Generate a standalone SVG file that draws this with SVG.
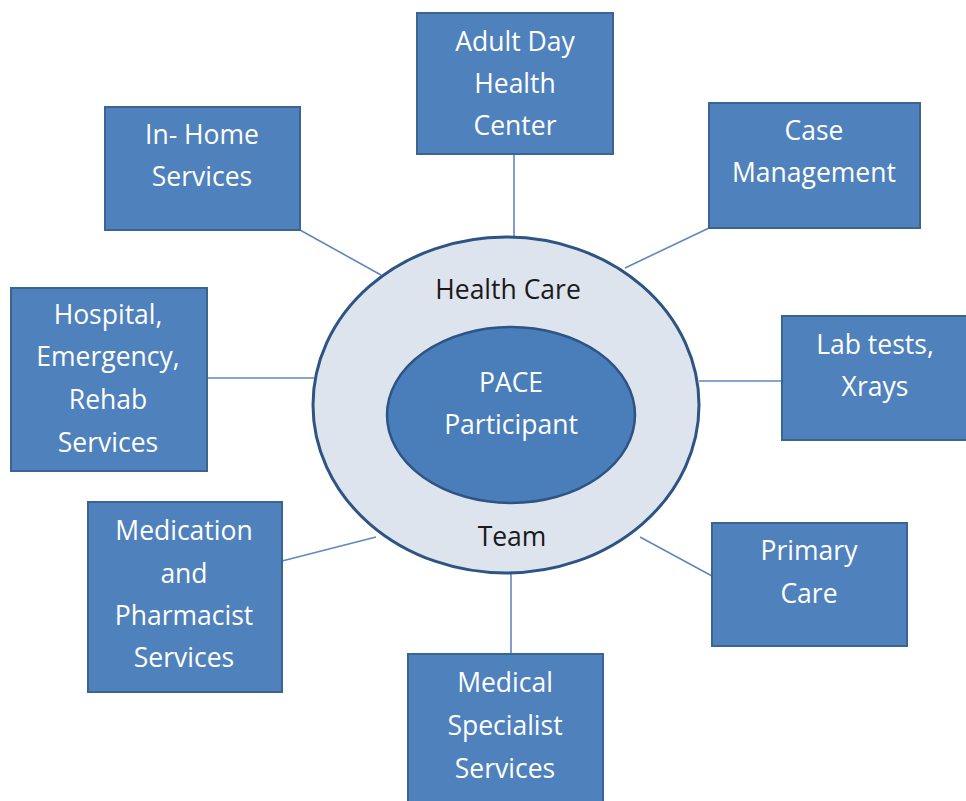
<svg xmlns="http://www.w3.org/2000/svg" width="966" height="801" viewBox="0 0 966 801">
<style>
.box{fill:#4f81bd;stroke:#3b6491;stroke-width:2}
.t{font-family:"Open Sans","Liberation Sans",sans-serif;font-size:26.5px;fill:#ffffff;text-anchor:middle}
.d{font-family:"Open Sans","Liberation Sans",sans-serif;font-size:26.5px;fill:#1a1a1a;text-anchor:middle}
.c line{stroke:#6088bd;stroke-width:1.6}
</style>
<rect width="966" height="801" fill="#ffffff"/>
<g class="c" id="connectors">
<line x1="514" y1="154" x2="514" y2="238"/>
<line x1="300" y1="230" x2="381" y2="275"/>
<line x1="709" y1="228" x2="625" y2="268"/>
<line x1="206" y1="378" x2="314" y2="378"/>
<line x1="699" y1="381" x2="782" y2="381"/>
<line x1="282" y1="561" x2="376" y2="537"/>
<line x1="712" y1="576" x2="640" y2="537"/>
<line x1="511" y1="572" x2="511" y2="655"/>
</g>
<g id="center">
<ellipse cx="506" cy="405" rx="193" ry="168" fill="#dde4ee" stroke="#2e5483" stroke-width="3"/>
<text class="d" x="508" y="299">Health Care</text>
<text class="d" x="512" y="546">Team</text>
<ellipse cx="511" cy="415" rx="124" ry="88" fill="#4a7ebb" stroke="#2e5483" stroke-width="2.5"/>
<text class="t" x="511" y="392">PACE</text>
<text class="t" x="511" y="434">Participant</text>
</g>
<g id="adult-day">
<rect class="box" x="417" y="13" width="196" height="141"/>
<text class="t" x="515" y="51">Adult Day</text>
<text class="t" x="515" y="93">Health</text>
<text class="t" x="515" y="135">Center</text>
</g>
<g id="in-home">
<rect class="box" x="105" y="107" width="195" height="123"/>
<text class="t" x="202" y="144">In- Home</text>
<text class="t" x="202" y="186">Services</text>
</g>
<g id="case-management">
<rect class="box" x="709" y="103" width="211" height="125"/>
<text class="t" x="814" y="140">Case</text>
<text class="t" x="814" y="182">Management</text>
</g>
<g id="hospital">
<rect class="box" x="11" y="288" width="196" height="183"/>
<text class="t" x="108" y="324">Hospital,</text>
<text class="t" x="108" y="366">Emergency,</text>
<text class="t" x="108" y="409">Rehab</text>
<text class="t" x="108" y="452">Services</text>
</g>
<g id="lab-tests">
<rect class="box" x="782" y="316" width="190" height="124"/>
<text class="t" x="875" y="354">Lab tests,</text>
<text class="t" x="875" y="396">Xrays</text>
</g>
<g id="medication">
<rect class="box" x="88" y="502" width="194" height="190"/>
<text class="t" x="184" y="540">Medication</text>
<text class="t" x="184" y="583">and</text>
<text class="t" x="184" y="625">Pharmacist</text>
<text class="t" x="184" y="667">Services</text>
</g>
<g id="primary-care">
<rect class="box" x="712" y="523" width="195" height="123"/>
<text class="t" x="809" y="560">Primary</text>
<text class="t" x="809" y="603">Care</text>
</g>
<g id="medical-specialist">
<rect class="box" x="408" y="654" width="195" height="152"/>
<text class="t" x="505" y="692">Medical</text>
<text class="t" x="505" y="735">Specialist</text>
<text class="t" x="505" y="778">Services</text>
</g>
</svg>
